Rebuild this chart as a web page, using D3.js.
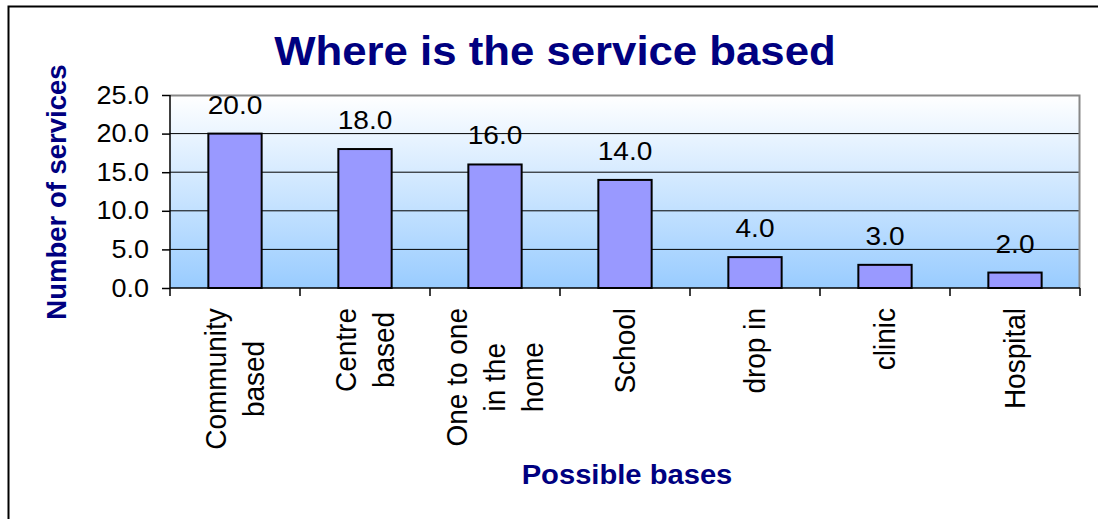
<!DOCTYPE html>
<html>
<head>
<meta charset="utf-8">
<script src="https://cdn.jsdelivr.net/npm/d3@7"></script>
<style>
  body { margin: 0; background: #fff; }
  text { font-family: Arial, "Liberation Sans", sans-serif; }
</style>
</head>
<body>
<div id="chart"></div>
<script>
var categories = [
  ["Community", "based"],
  ["Centre", "based"],
  ["One to one", "in the", "home"],
  ["School"],
  ["drop in"],
  ["clinic"],
  ["Hospital"]
];
var values = [20, 18, 16, 14, 4, 3, 2];
var yTicks = [0, 5, 10, 15, 20, 25];

var width = 1098, height = 519,
    margin = {top: 95, right: 18, bottom: 231, left: 170},
    format = d3.format(".1f"),
    navy = "#000080",
    sx = 1.08; // horizontal stretch of the original picture

var svg = d3.select("#chart").append("svg")
    .attr("width", width)
    .attr("height", height);

// outer chart border
svg.append("rect")
    .attr("x", 8.5).attr("y", 6.5)
    .attr("width", width).attr("height", height)
    .style("fill", "none")
    .style("stroke", "#000")
    .style("stroke-width", 2);

var pw = width - margin.left - margin.right,
    ph = height - margin.top - margin.bottom;

var x = d3.scaleBand()
    .domain(d3.range(categories.length))
    .range([0, pw])
    .paddingInner(0.59)
    .paddingOuter(0.295);

var x0 = d3.scaleBand()
    .domain(d3.range(categories.length))
    .range([0, pw]);

var y = d3.scaleLinear()
    .domain([0, 25])
    .range([ph, 0]);

var defs = svg.append("defs");
var grad = defs.append("linearGradient")
    .attr("id", "bg").attr("x1", 0).attr("y1", 0).attr("x2", 0).attr("y2", 1);
grad.append("stop").attr("offset", "0%").attr("stop-color", "#ffffff");
grad.append("stop").attr("offset", "100%").attr("stop-color", "#99ccff");

var g = svg.append("g")
    .attr("transform", "translate(" + margin.left + "," + margin.top + ")");

g.append("rect")
    .attr("width", pw).attr("height", ph)
    .style("fill", "url(#bg)");

// gridlines
g.selectAll(".grid")
    .data(yTicks.filter(function(d) { return d > 0 && d < 25; }))
  .enter().append("line")
    .attr("x1", 0).attr("x2", pw)
    .attr("y1", function(d) { return y(d); })
    .attr("y2", function(d) { return y(d); })
    .style("stroke", "#000").style("stroke-width", 1);

// top and right border of plot area
g.append("path")
    .attr("d", "M0,0.5H" + (pw - 0.5) + "V" + ph)
    .style("fill", "none").style("stroke", "#888").style("stroke-width", 2);

// bars
g.selectAll(".bar")
    .data(values)
  .enter().append("rect")
    .attr("x", function(d, i) { return x(i); })
    .attr("y", function(d) { return y(d); })
    .attr("width", x.bandwidth())
    .attr("height", function(d) { return ph - y(d); })
    .style("fill", "#9999ff")
    .style("stroke", "#000")
    .style("stroke-width", 2);

// value labels
g.selectAll(".val")
    .data(values)
  .enter().append("text")
    .attr("transform", function(d, i) {
      return "translate(" + (x(i) + x.bandwidth() / 2) + "," + (y(d) - 20) + ") scale(" + sx + ",1)";
    })
    .attr("text-anchor", "middle")
    .style("font-size", "26px")
    .text(function(d) { return format(d); });

// y axis
var yAxis = g.append("g")
    .call(d3.axisLeft(y).tickValues(yTicks).tickFormat(format).tickSize(8).tickPadding(13));
yAxis.select(".domain").remove();
yAxis.append("line").attr("x1", 0).attr("x2", 0).attr("y1", 0).attr("y2", ph)
    .style("stroke", "#000").style("stroke-width", 1.5);
yAxis.selectAll(".tick line").style("stroke", "#000").style("stroke-width", 1.5);
yAxis.selectAll(".tick text")
    .attr("transform", "scale(" + sx + ",1)")
    .attr("x", -21 / sx)
    .style("font-size", "25px")
    .style("font-family", "Arial, 'Liberation Sans', sans-serif")
    .attr("fill", "#000");

// x axis
var xAxis = g.append("g")
    .attr("transform", "translate(0," + ph + ")");
xAxis.append("line").attr("x1", 0).attr("x2", pw)
    .style("stroke", "#000").style("stroke-width", 1.5);
xAxis.selectAll(".xt")
    .data(d3.range(categories.length + 1))
  .enter().append("line")
    .attr("x1", function(d) { return d * x0.bandwidth(); })
    .attr("x2", function(d) { return d * x0.bandwidth(); })
    .attr("y1", 0).attr("y2", 8)
    .style("stroke", "#000").style("stroke-width", 1.5);

var lineGap = 38;
var lab = xAxis.selectAll(".xl")
    .data(categories)
  .enter().append("g")
    .attr("transform", function(d, i) {
      var cx = x0(i) + x0.bandwidth() / 2;
      return "translate(" + cx + ",20)";
    });

lab.each(function(lines) {
  var sel = d3.select(this);
  var n = lines.length;
  // measure longest line to centre shorter ones on it
  var t = sel.append("text")
      .attr("transform", "scale(" + sx + ",1) rotate(-90)")
      .attr("text-anchor", "middle")
      .style("font-size", "28px");
  lines.forEach(function(s, k) {
    t.append("tspan")
        .attr("x", 0)
        .attr("y", (k - (n - 1) / 2) * lineGap / sx + 9)
        .text(s);
  });
  var w = t.node().getBBox().width;
  t.attr("transform", "translate(0," + (w / 2) + ") scale(" + sx + ",1) rotate(-90)");
});

// title
svg.append("text")
    .attr("transform", "translate(555,65) scale(" + sx + ",1)")
    .attr("text-anchor", "middle")
    .style("font-size", "40.5px")
    .style("font-weight", "bold")
    .attr("fill", navy)
    .text("Where is the service based");

// axis titles
svg.append("text")
    .attr("transform", "translate(66,192) rotate(-90)")
    .attr("text-anchor", "middle")
    .style("font-size", "27.5px")
    .style("font-weight", "bold")
    .attr("fill", navy)
    .text("Number of services");

svg.append("text")
    .attr("transform", "translate(627,484) scale(" + sx + ",1)")
    .attr("text-anchor", "middle")
    .style("font-size", "27px")
    .style("font-weight", "bold")
    .attr("fill", navy)
    .text("Possible bases");
</script>
</body>
</html>
